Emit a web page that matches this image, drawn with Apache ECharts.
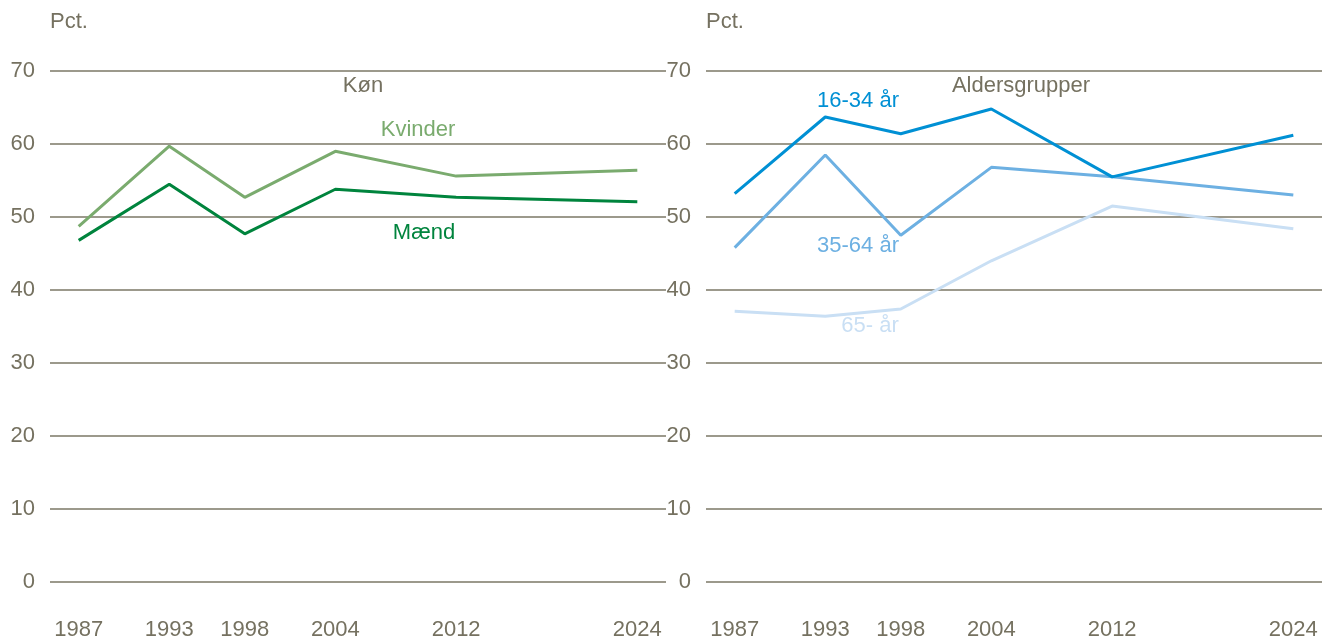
<!DOCTYPE html>
<html>
<head>
<meta charset="utf-8">
<script src="https://cdn.jsdelivr.net/npm/echarts@6/dist/echarts.min.js"></script>
<style>
  html, body { margin: 0; padding: 0; background: #fff; }
  #chart { width: 1322px; height: 639px; }
</style>
</head>
<body>
<div id="chart"></div>
<script>
// data
var years = [1987, 1993, 1998, 2004, 2012, 2024];
var yearTicks = [1987, 1993, 1998, 2004, 2012, 2024];
var kvinder = [48.7, 59.7, 52.7, 59.0, 55.6, 56.4];
var maend = [46.8, 54.5, 47.7, 53.8, 52.7, 52.1];
var age16_34 = [53.2, 63.7, 61.4, 64.8, 55.5, 61.2];
var age35_64 = [45.8, 58.5, 47.5, 56.8, 55.5, 53.0];
var age65 = [37.1, 36.4, 37.4, 44.0, 51.5, 48.4];

var textColor = '#757160';
var gridColor = '#7b7766';
var font = 'Liberation Sans, Arial, sans-serif';
var fs = 22;

function pairs(vals) {
  return years.map(function (y, i) { return [y, vals[i]]; });
}

function xAx(idx) {
  return {
    type: 'value', gridIndex: idx, min: 1985.1, max: 2025.9,
    axisLine: { show: false }, axisTick: { show: false }, splitLine: { show: false },
    axisLabel: {
      customValues: yearTicks, color: textColor, fontSize: fs, fontFamily: font,
      margin: 37, formatter: function (v) { return String(Math.round(v)); }
    }
  };
}
function yAx(idx) {
  return {
    type: 'value', gridIndex: idx, min: 0, max: 70, interval: 10,
    axisLine: { show: false }, axisTick: { show: false },
    splitLine: { lineStyle: { color: gridColor, width: 1.5 } },
    axisLabel: { color: textColor, fontSize: fs, fontFamily: font, margin: 15 }
  };
}
function line(name, vals, color, idx) {
  return {
    name: name, type: 'line', xAxisIndex: idx, yAxisIndex: idx,
    data: pairs(vals), symbol: 'none', lineStyle: { color: color, width: 3 },
    itemStyle: { color: color }
  };
}
function txt(x, y, s, color, align) {
  return {
    type: 'text', x: x, y: y,
    style: { text: s, fill: color, font: fs + 'px ' + font, textAlign: align || 'center', textVerticalAlign: 'middle' }
  };
}

var chart = echarts.init(document.getElementById('chart'), null, { renderer: 'canvas' });
var option = {
  animation: false,
  grid: [
    { left: 50, top: 71, width: 616, bottom: 57, outerBoundsMode: 'none' },
    { left: 706, top: 71, width: 616, bottom: 57, outerBoundsMode: 'none' }
  ],
  xAxis: [xAx(0), xAx(1)],
  yAxis: [yAx(0), yAx(1)],
  series: [
    line('Kvinder', kvinder, '#7aab6e', 0),
    line('Mænd', maend, '#00843d', 0),
    line('65- år', age65, '#c9dff4', 1),
    line('35-64 år', age35_64, '#6db0e2', 1),
    line('16-34 år', age16_34, '#0090d4', 1)
  ],
  graphic: [
    txt(50, 22, 'Pct.', textColor, 'left'),
    txt(706, 22, 'Pct.', textColor, 'left'),
    txt(363, 86, 'Køn', textColor),
    txt(418, 130, 'Kvinder', '#7aab6e'),
    txt(424, 233, 'Mænd', '#00843d'),
    txt(1021, 86, 'Aldersgrupper', textColor),
    txt(858, 101, '16-34 år', '#0090d4'),
    txt(858, 246, '35-64 år', '#6db0e2'),
    txt(870, 326, '65- år', '#c9dff4')
  ]
};
chart.setOption(option);
window.addEventListener('resize', chart.resize);
</script>
</body>
</html>
